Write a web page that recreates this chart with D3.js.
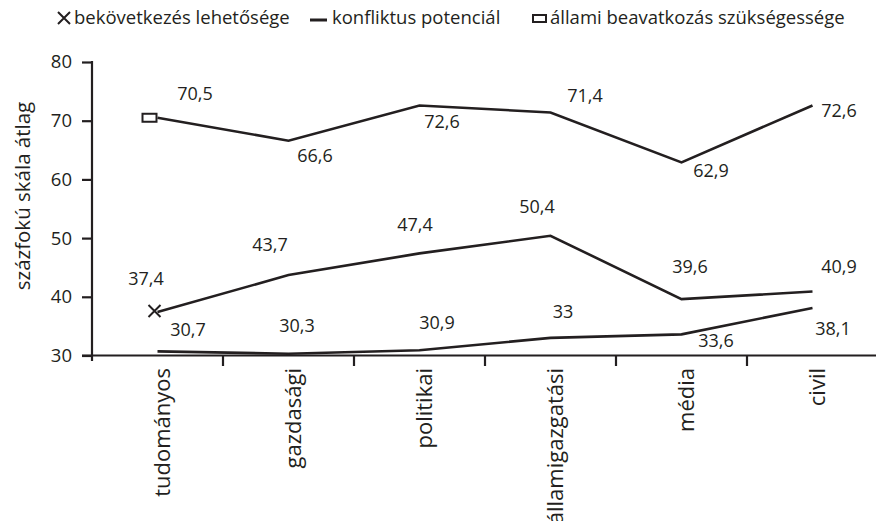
<!DOCTYPE html>
<html><head><meta charset="utf-8">
<script src="https://cdn.jsdelivr.net/npm/d3@7"></script>
<style>
html,body{margin:0;padding:0;background:#fff;}
svg{display:block;font-family:"Open Sans",sans-serif;}
</style></head>
<body><svg id="c" width="876" height="521"></svg>
<script>
const categories = ["tudományos","gazdasági","politikai","államigazgatási","média","civil"];
const bekovetkezes = [37.4, 43.7, 47.4, 50.4, 39.6, 40.9];
const konfliktus = [30.7, 30.3, 30.9, 33, 33.6, 38.1];
const allami = [70.5, 66.6, 72.6, 71.4, 62.9, 72.6];
const yTicks = [30, 40, 50, 60, 70, 80];
const seriesNames = ["bekövetkezés lehetősége", "konfliktus potenciál", "állami beavatkozás szükségessége"];
const yTitle = "százfokú skála átlag";

// layout: label offsets (px) relative to each point
const labelOffsets = {
  allami: [[37.5,-18],[26.5,21],[22.5,23],[34.5,-10],[29.5,15],[26.5,12]],
  bekovetkezes: [[-11.5,-27],[-18.5,-24],[-4.5,-22],[-13.5,-23],[8.5,-26],[26.5,-18.5]],
  konfliktus: [[30.5,-15],[8.5,-22],[17.5,-21],[12.5,-20],[34.5,13],[20.5,27]]
};

const ink = "#231f20";
const svg = d3.select("#c");
const x = d3.scaleBand().domain(categories).range([92, 878]).paddingInner(0).paddingOuter(0);
const y = d3.scaleLinear().domain([30, 80]).range([355.5, 62]);
const cx = c => x(c) + x.bandwidth() / 2;

// y axis
const yAxis = svg.append("g").attr("transform", "translate(92,0)")
  .call(d3.axisLeft(y).tickValues(yTicks).tickSize(10).tickSizeOuter(0).tickPadding(10));
yAxis.select(".domain").remove();
yAxis.selectAll(".tick line").attr("stroke", ink).attr("stroke-width", 2.2);
yAxis.selectAll(".tick text").attr("fill", ink).style("font-size", "18.5px").style("font-family", "Open Sans");
svg.append("line").attr("x1", 92).attr("x2", 92).attr("y1", y(80) - 1).attr("y2", 361)
  .attr("stroke", ink).attr("stroke-width", 2.2);

// x axis
const xAxis = svg.append("g").attr("transform", "translate(0,355.5)")
  .call(d3.axisBottom(x).tickSize(0).tickSizeOuter(0));
xAxis.select(".domain").remove();
xAxis.selectAll(".tick text").remove();
svg.append("line").attr("x1", 82).attr("x2", 876).attr("y1", 355.5).attr("y2", 355.5)
  .attr("stroke", ink).attr("stroke-width", 2.2);
// tick marks at band boundaries
svg.append("g").selectAll("line").data(categories.slice(1)).join("line")
  .attr("x1", d => x(d)).attr("x2", d => x(d)).attr("y1", 355.5).attr("y2", 366)
  .attr("stroke", ink).attr("stroke-width", 2.2);
// category labels
svg.append("g").selectAll("text").data(categories).join("text")
  .attr("transform", d => `translate(${cx(d) + 5},368) rotate(-90)`)
  .attr("text-anchor", "end").attr("dy", "0.35em")
  .style("font-size", "22px").attr("fill", ink).text(d => d);

// y title
svg.append("text").attr("transform", "translate(30,196) rotate(-90)")
  .attr("text-anchor", "middle").style("font-size", "20.5px").attr("fill", ink).text(yTitle);

// lines
const line = d3.line().x((d, i) => cx(categories[i])).y(d => y(d));
const series = [
  {key: "allami", values: allami},
  {key: "bekovetkezes", values: bekovetkezes},
  {key: "konfliktus", values: konfliktus}
];
series.forEach(s => {
  svg.append("path").datum(s.values).attr("d", line)
    .attr("fill", "none").attr("stroke", ink).attr("stroke-width", 2.6).attr("stroke-linejoin", "miter");
  svg.append("g").selectAll("text").data(s.values).join("text")
    .attr("x", (d, i) => cx(categories[i]) + labelOffsets[s.key][i][0])
    .attr("y", (d, i) => y(d) + labelOffsets[s.key][i][1])
    .attr("text-anchor", "middle").style("font-size", "18px").attr("fill", ink)
    .text(d => String(d).replace(".", ","));
});

// markers on first points
const p0x = cx(categories[0]);
// square for allami
svg.append("rect").attr("x", p0x - 15).attr("y", y(allami[0]) - 4).attr("width", 14).attr("height", 8)
  .attr("fill", "#fff").attr("stroke", ink).attr("stroke-width", 2);
// X for bekovetkezes
const bx = p0x - 3, by = y(bekovetkezes[0]) - 1;
svg.append("path").attr("d", `M${bx-6},${by-6}L${bx+6},${by+6}M${bx-6},${by+6}L${bx+6},${by-6}`)
  .attr("stroke", ink).attr("stroke-width", 2).attr("fill", "none");

// legend
const lg = svg.append("g");
const ly = 18;
lg.append("path").attr("d", `M58,${ly-6}L70,${ly+6}M58,${ly+6}L70,${ly-6}`).attr("stroke", ink).attr("stroke-width", 2);
lg.append("text").attr("x", 74).attr("y", ly).attr("dy", "0.35em").style("font-size", "18.5px").attr("fill", ink).text(seriesNames[0]);
lg.append("line").attr("x1", 310).attr("x2", 327).attr("y1", ly + 2).attr("y2", ly + 2).attr("stroke", ink).attr("stroke-width", 3);
lg.append("text").attr("x", 332).attr("y", ly).attr("dy", "0.35em").style("font-size", "18.5px").attr("fill", ink).text(seriesNames[1]);
lg.append("rect").attr("x", 533).attr("y", ly - 3).attr("width", 13).attr("height", 7).attr("fill", "#fff").attr("stroke", ink).attr("stroke-width", 2);
lg.append("text").attr("x", 550).attr("y", ly).attr("dy", "0.35em").style("font-size", "18.5px").attr("fill", ink).text(seriesNames[2]);
</script></body></html>
